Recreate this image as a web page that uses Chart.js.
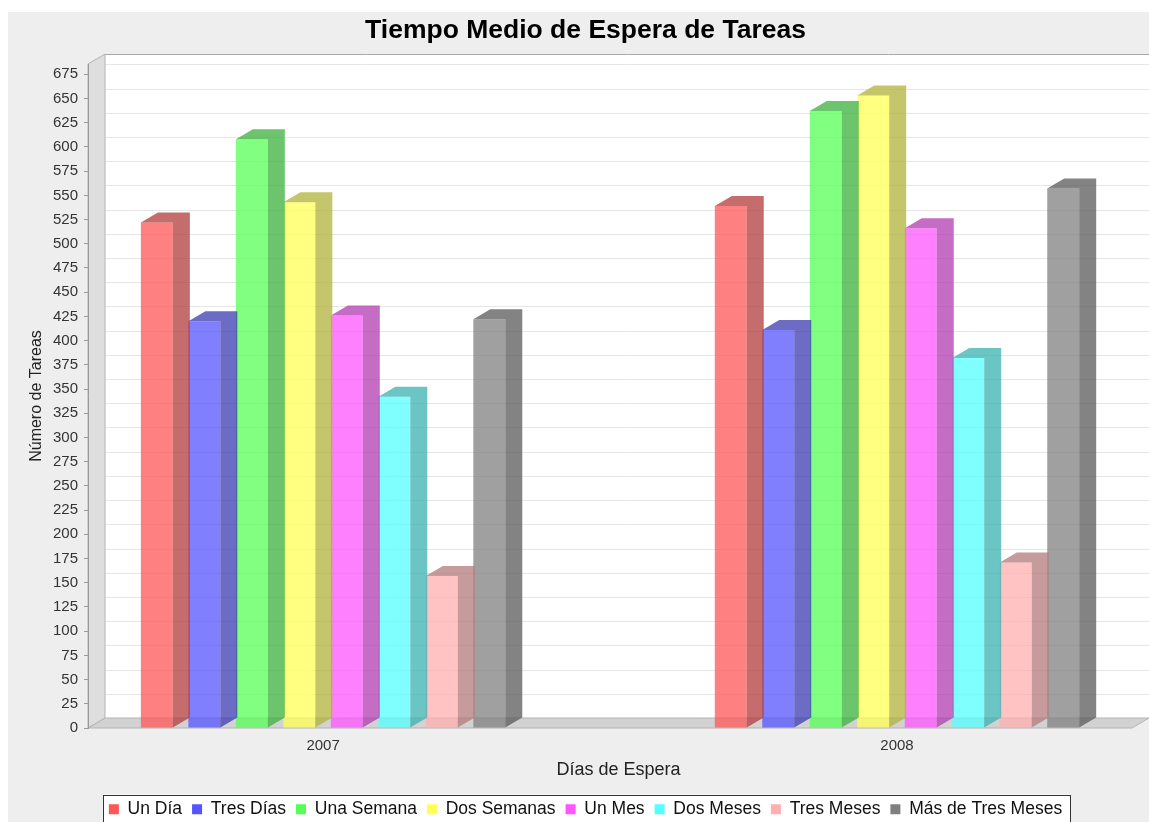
<!DOCTYPE html>
<html lang="es">
<head>
<meta charset="utf-8">
<title>Tiempo Medio de Espera de Tareas</title>
<script src="https://cdn.jsdelivr.net/npm/chart.js@4.4.0/dist/chart.umd.min.js"></script>
<style>
  html, body { margin: 0; padding: 0; background: #ffffff; }
  #contenedor { width: 1149px; height: 822px; }
</style>
</head>
<body>
<div id="contenedor"><canvas id="graficoEspera" width="1149" height="822"></canvas></div>
<script>
// Años (categorías del eje X)
const categorias = ['2007', '2008'];

// Series (tiempo de espera)
const series = ['Un Día', 'Tres Días', 'Una Semana', 'Dos Semanas', 'Un Mes', 'Dos Meses', 'Tres Meses', 'Más de Tres Meses'];

// Número de tareas por serie, un valor por año
const unDia = [522, 539];
const tresDias = [420, 411];
const unaSemana = [608, 637];
const dosSemanas = [543, 653];
const unMes = [426, 516];
const dosMeses = [342, 382];
const tresMeses = [157, 171];
const masDeTresMeses = [422, 557];

const valores = [unDia, tresDias, unaSemana, dosSemanas, unMes, dosMeses, tresMeses, masDeTresMeses];

// Paleta por defecto (rojo, azul, verde, amarillo, magenta, cian, rosa, gris)
const coloresSerie = ['#ff5555', '#5555ff', '#55ff55', '#ffff55', '#ff55ff', '#55ffff', '#ffafaf', '#808080'];

// Profundidad del efecto 3D
const PROF_X = 17;
const PROF_Y = 10;
const ALFA = 0.75;

// Rango del eje X (las categorías están en 0 y 1)
const X_MIN = -0.4096;
const X_MAX = 1.4391;

function rgb(hex) {
  const n = parseInt(hex.slice(1), 16);
  return [(n >> 16) & 255, (n >> 8) & 255, n & 255];
}
function conAlfa(hex, a) {
  const [r, g, b] = rgb(hex);
  return `rgba(${r},${g},${b},${a})`;
}
function oscuro(hex, a) {
  const [r, g, b] = rgb(hex).map(c => Math.floor(c * 0.7));
  return `rgba(${r},${g},${b},${a})`;
}

const maxValor = Math.max(...valores.flat());

// Paredes, suelo, líneas de rejilla y fondo de la leyenda
const fondo3D = {
  id: 'fondo3D',
  beforeDraw(chart) {
    const { ctx, chartArea: a, scales } = chart;
    const ejeY = scales.y;
    const frenteDer = a.right - PROF_X;
    ctx.save();

    ctx.fillStyle = '#eeeeee';
    ctx.fillRect(8, 12, chart.width - 8, chart.height - 12);

    // pared del fondo
    ctx.fillStyle = '#ffffff';
    ctx.fillRect(a.left + PROF_X, a.top - PROF_Y, a.right - a.left, a.bottom - a.top);

    ctx.strokeStyle = '#e6e6e6';
    ctx.lineWidth = 1;
    ejeY.ticks.forEach(t => {
      const py = Math.round(ejeY.getPixelForValue(t.value) - PROF_Y) + 0.5;
      ctx.beginPath();
      ctx.moveTo(a.left + PROF_X, py);
      ctx.lineTo(a.right + PROF_X, py);
      ctx.stroke();
    });

    ctx.strokeStyle = '#a8a8a8';
    ctx.beginPath();
    ctx.moveTo(a.left + PROF_X, a.top - PROF_Y + 0.5);
    ctx.lineTo(a.right + PROF_X, a.top - PROF_Y + 0.5);
    ctx.stroke();

    // pared izquierda
    ctx.fillStyle = '#dedede';
    ctx.strokeStyle = '#b4b4b4';
    ctx.beginPath();
    ctx.moveTo(a.left, a.top);
    ctx.lineTo(a.left + PROF_X, a.top - PROF_Y);
    ctx.lineTo(a.left + PROF_X, a.bottom - PROF_Y);
    ctx.lineTo(a.left, a.bottom);
    ctx.closePath();
    ctx.fill();
    ctx.stroke();

    // suelo
    ctx.fillStyle = '#d2d2d2';
    ctx.beginPath();
    ctx.moveTo(a.left, a.bottom);
    ctx.lineTo(a.left + PROF_X, a.bottom - PROF_Y);
    ctx.lineTo(a.right, a.bottom - PROF_Y);
    ctx.lineTo(frenteDer, a.bottom);
    ctx.closePath();
    ctx.fill();
    ctx.stroke();

    // recuadro de la leyenda
    const cajas = chart.legend.legendHitBoxes;
    if (cajas && cajas.length) {
      const ultima = cajas[cajas.length - 1];
      const izq = cajas[0].left - 6;
      const der = ultima.left + ultima.width + 8;
      const arriba = cajas[0].top - 6;
      ctx.fillStyle = '#ffffff';
      ctx.fillRect(izq, arriba, der - izq, chart.height - arriba + 10);
      ctx.strokeStyle = '#333333';
      ctx.strokeRect(Math.round(izq) + 0.5, Math.round(arriba) + 0.5, Math.round(der - izq), chart.height);
    }
    ctx.restore();
  }
};

// Cara lateral y superior de cada barra
const caras3D = {
  id: 'caras3D',
  afterDatasetDraw(chart, args) {
    const { ctx } = chart;
    ctx.save();
    ctx.fillStyle = oscuro(coloresSerie[args.index], ALFA);
    args.meta.data.forEach(barra => {
      const { x, y, base, width } = barra.getProps(['x', 'y', 'base', 'width'], true);
      const izq = x - width / 2;
      const der = x + width / 2;
      ctx.beginPath();
      ctx.moveTo(izq, y);
      ctx.lineTo(izq + PROF_X, y - PROF_Y);
      ctx.lineTo(der + PROF_X, y - PROF_Y);
      ctx.lineTo(der + PROF_X, base - PROF_Y);
      ctx.lineTo(der, base);
      ctx.lineTo(der, y);
      ctx.closePath();
      ctx.fill();
    });
    ctx.restore();
  }
};

Chart.defaults.font.family = '"Liberation Sans", Arial, sans-serif';
Chart.defaults.color = '#333333';

const datasets = series.map((nombre, i) => ({
  label: nombre,
  data: valores[i].map((v, j) => ({ x: j, y: v })),
  backgroundColor: conAlfa(coloresSerie[i], ALFA),
  borderWidth: 0,
  categoryPercentage: 0.662,
  barPercentage: 0.673
}));

const ctx = document.getElementById('graficoEspera').getContext('2d');
window.graficoEspera = new Chart(ctx, {
  type: 'bar',
  data: { datasets },
  plugins: [fondo3D, caras3D],
  options: {
    responsive: false,
    animation: false,
    events: [],
    layout: { padding: { left: 20, right: -2, top: 0, bottom: -6 } },
    plugins: {
      title: {
        display: true,
        text: 'Tiempo Medio de Espera de Tareas',
        color: '#000000',
        font: { size: 26.5, weight: 'bold' },
        padding: { top: 15, bottom: 17.2 }
      },
      legend: {
        position: 'bottom',
        align: 'center',
        labels: {
          boxWidth: 10,
          boxHeight: 10,
          padding: 10,
          color: '#111111',
          font: { size: 17.5 },
          generateLabels(chart) {
            const items = Chart.defaults.plugins.legend.labels.generateLabels(chart);
            items.forEach((item, i) => {
              item.fillStyle = coloresSerie[i];
              item.strokeStyle = coloresSerie[i];
              item.lineWidth = 0;
            });
            return items;
          }
        }
      },
      tooltip: { enabled: false }
    },
    scales: {
      x: {
        type: 'linear',
        min: X_MIN,
        max: X_MAX,
        offset: false,
        afterBuildTicks(scale) {
          scale.ticks = categorias.map((c, i) => ({ value: i }));
        },
        afterFit(scale) {
          scale.height = 62.5;
        },
        ticks: {
          autoSkip: false,
          maxRotation: 0,
          padding: 9,
          color: '#333333',
          font: { size: 15 },
          callback: (valor) => categorias[valor]
        },
        grid: { display: false, drawTicks: false },
        border: { display: false },
        title: {
          display: true,
          text: 'Días de Espera',
          color: '#222222',
          font: { size: 18 },
          padding: { top: 0, bottom: 10 }
        }
      },
      y: {
        min: 0,
        max: maxValor * 1.05,
        afterFit(scale) {
          scale.width = 68;
        },
        ticks: {
          stepSize: 25,
          includeBounds: false,
          autoSkip: false,
          padding: 6,
          color: '#333333',
          font: { size: 15 }
        },
        grid: { drawOnChartArea: false, drawTicks: true, tickLength: 4, color: '#999999' },
        border: { display: true, color: '#999999' },
        title: {
          display: true,
          text: 'Número de Tareas',
          color: '#222222',
          font: { size: 16 },
          padding: { top: 7, bottom: 0 }
        }
      }
    }
  }
});
</script>
</body>
</html>
